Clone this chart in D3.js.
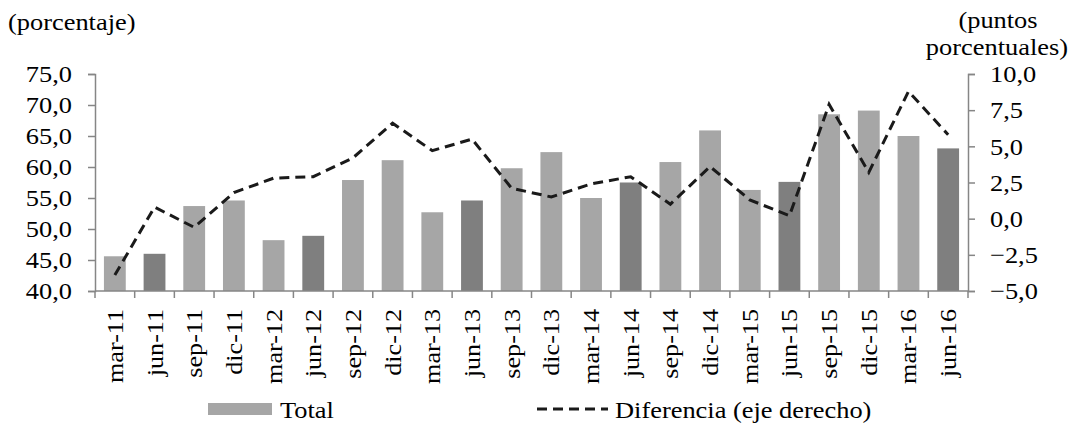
<!DOCTYPE html>
<meta charset="utf-8">
<script src="https://cdn.jsdelivr.net/npm/d3@7"></script>
<style>
  body { margin: 0; background: #fff; }
  text { font-family: "Liberation Serif", "Times New Roman", serif; fill: #000; }
</style>
<div id="chart"></div>
<script>

// data
var periods = ["mar-11","jun-11","sep-11","dic-11","mar-12","jun-12","sep-12","dic-12",
               "mar-13","jun-13","sep-13","dic-13","mar-14","jun-14","sep-14","dic-14",
               "mar-15","jun-15","sep-15","dic-15","mar-16","jun-16"];
var total = [45.6, 46.0, 53.7, 54.6, 48.2, 48.9, 57.9, 61.1,
             52.7, 54.6, 59.8, 62.4, 55.0, 57.5, 60.8, 65.9,
             56.3, 57.6, 68.5, 69.1, 65.0, 63.0];
var diferencia = [-3.9, 0.8, -0.6, 1.8, 2.8, 2.9, 4.2, 6.6,
                  4.7, 5.5, 2.1, 1.5, 2.4, 2.9, 1.0, 3.6,
                  1.3, 0.2, 7.9, 3.2, 8.8, 5.8];
var leftTicks = [40, 45, 50, 55, 60, 65, 70, 75];
var rightTicks = [-5, -2.5, 0, 2.5, 5, 7.5, 10];

var W = 1073, H = 425;
var margin = {top: 74, right: 105, bottom: 134, left: 95},
    width = W - margin.left - margin.right,
    height = H - margin.top - margin.bottom;

var root = d3.select("#chart").append("svg")
    .attr("width", W).attr("height", H);
var svg = root.append("g")
    .attr("transform", "translate(" + margin.left + "," + margin.top + ")");

var x = d3.scaleBand().domain(periods).range([0, width]).paddingInner(0.45).paddingOuter(0.225);
var yL = d3.scaleLinear().domain([40, 75]).range([height, 0]);
var yR = d3.scaleLinear().domain([-5, 10]).range([height, 0]);

var comma = function(d) { return d3.format(".1f")(d).replace(".", ","); };
var axisColor = "#868686";
var sx = 1.1; // text in the picture is a bit wider than Liberation Serif

// stretch a text horizontally around its own anchor
function widen(sel) {
  sel.each(function() {
    var t = d3.select(this);
    var tx = +t.attr("x") || 0, ty = +t.attr("y") || 0;
    t.attr("x", 0).attr("y", 0)
     .attr("transform", "translate(" + tx + "," + ty + ") scale(" + sx + ",1)");
  });
}

// bars
svg.selectAll(".bar")
  .data(periods)
  .enter()
  .append("rect")
    .attr("x", function(d) { return x(d); })
    .attr("y", function(d, i) { return yL(total[i]); })
    .attr("width", x.bandwidth())
    .attr("height", function(d, i) { return height - yL(total[i]); })
    .attr("fill", function(d) { return d.slice(0, 3) == "jun" ? "#7f7f7f" : "#a6a6a6"; });

// left axis
var gL = svg.append("g")
  .call(d3.axisLeft(yL).tickValues(leftTicks).tickFormat(comma).tickSize(7).tickPadding(16));
// right axis
var gR = svg.append("g")
  .attr("transform", "translate(" + width + ",0)")
  .call(d3.axisRight(yR).tickValues(rightTicks).tickFormat(comma).tickSize(7).tickPadding(15));

[gL, gR].forEach(function(g) {
  g.select(".domain").attr("stroke", axisColor).attr("stroke-width", 1.5);
  g.selectAll(".tick line").attr("stroke", axisColor).attr("stroke-width", 1.5);
  g.selectAll("text").attr("font-size", "24px").attr("font-family", "Liberation Serif").call(widen);
});

// x axis with ticks on band edges
var gX = svg.append("g").attr("transform", "translate(0," + height + ")");
gX.append("line").attr("x1", 0).attr("x2", width).attr("stroke", axisColor).attr("stroke-width", 1.5);
var step = x.step();
gX.selectAll(".xt")
  .data(d3.range(periods.length + 1))
  .enter()
  .append("line")
    .attr("x1", function(i) { return i * step; })
    .attr("x2", function(i) { return i * step; })
    .attr("y1", 0).attr("y2", 7)
    .attr("stroke", axisColor).attr("stroke-width", 1.5);
var xLabels = gX.selectAll(".xl")
  .data(periods)
  .enter()
  .append("text")
    .attr("text-anchor", "end")
    .attr("font-size", "24px")
    .text(function(d) { return d; });
// the labels are longer in the picture: "mar-11" is about 74px long
var xs = 74 / xLabels.node().getComputedTextLength();
xLabels.attr("transform", function(d) {
  return "translate(" + (x(d) + x.bandwidth() / 2 + 8) + ",18) rotate(-90) scale(" + xs + ",1)";
});

// line
var line = d3.line()
  .x(function(d, i) { return x(periods[i]) + x.bandwidth() / 2; })
  .y(function(d) { return yR(d); });
svg.append("path")
  .datum(diferencia)
  .attr("d", line)
  .attr("fill", "none")
  .attr("stroke", "#1a1a1a")
  .attr("stroke-width", 3)
  .attr("stroke-dasharray", "10,6");

// axis titles
root.append("text").attr("x", 8).attr("y", 30).attr("font-size", "24px").text("(porcentaje)").call(widen);
root.append("text").attr("x", 998).attr("y", 28).attr("text-anchor", "middle").attr("font-size", "24px").text("(puntos").call(widen);
root.append("text").attr("x", 1068).attr("y", 55).attr("text-anchor", "end").attr("font-size", "24px").text("porcentuales)").call(widen);

// legend
var leg = root.append("g");
leg.append("rect").attr("x", 208).attr("y", 403).attr("width", 64).attr("height", 12).attr("fill", "#a6a6a6");
leg.append("text").attr("x", 280).attr("y", 418).attr("font-size", "24px").text("Total").call(widen);
leg.append("line").attr("x1", 537).attr("x2", 608).attr("y1", 409).attr("y2", 409)
  .attr("stroke", "#1a1a1a").attr("stroke-width", 3).attr("stroke-dasharray", "10,6");
leg.append("text").attr("x", 615).attr("y", 418).attr("font-size", "24px").text("Diferencia (eje derecho)").call(widen);

</script>
